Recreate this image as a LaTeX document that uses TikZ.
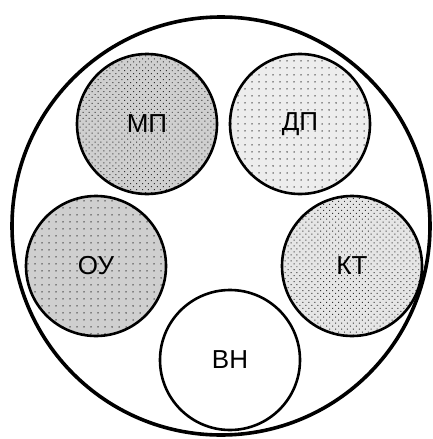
\documentclass[tikz,border=0pt]{standalone}
\usepackage{fontspec}
\setmainfont{Liberation Sans}
\usetikzlibrary{patterns.meta}
\tikzset{
  blob/.style={circle, draw=black, line width=2.6pt, inner sep=0pt, minimum size=140pt, font=\fontsize{26}{30}\selectfont},
  densedots/.style={pattern={Dots[radius=0.7pt, distance=4.2pt, angle=45]}, pattern color=black!80},
  sparsedots/.style={pattern={Dots[radius=0.75pt, distance=7pt]}, pattern color=black!80},
  mpfill/.style={blob, preaction={fill=black!19}, densedots},
  dpfill/.style={blob, preaction={fill=black!7}, sparsedots},
  oufill/.style={blob, preaction={fill=black!19}, sparsedots},
  ktfill/.style={blob, preaction={fill=black!10}, densedots},
  outer/.style={draw=black, line width=3.6pt}
}
\begin{document}
\begin{tikzpicture}[x=1pt, y=-1pt]
  \useasboundingbox (0,0) rectangle (433,439);
  \fill[white] (0,0) rectangle (433,439);
  \draw[outer] (221,226) circle[radius=209];
  \node[mpfill] (mp) at (147,124) {МП};
  \node[dpfill] (dp) at (300,124) {ДП};
  \node[oufill] (ou) at (96,266) {ОУ};
  \node[ktfill] (kt) at (352,266) {КТ};
  \node[blob, fill=white] (vn) at (230,360) {ВН};
\end{tikzpicture}
\end{document}
